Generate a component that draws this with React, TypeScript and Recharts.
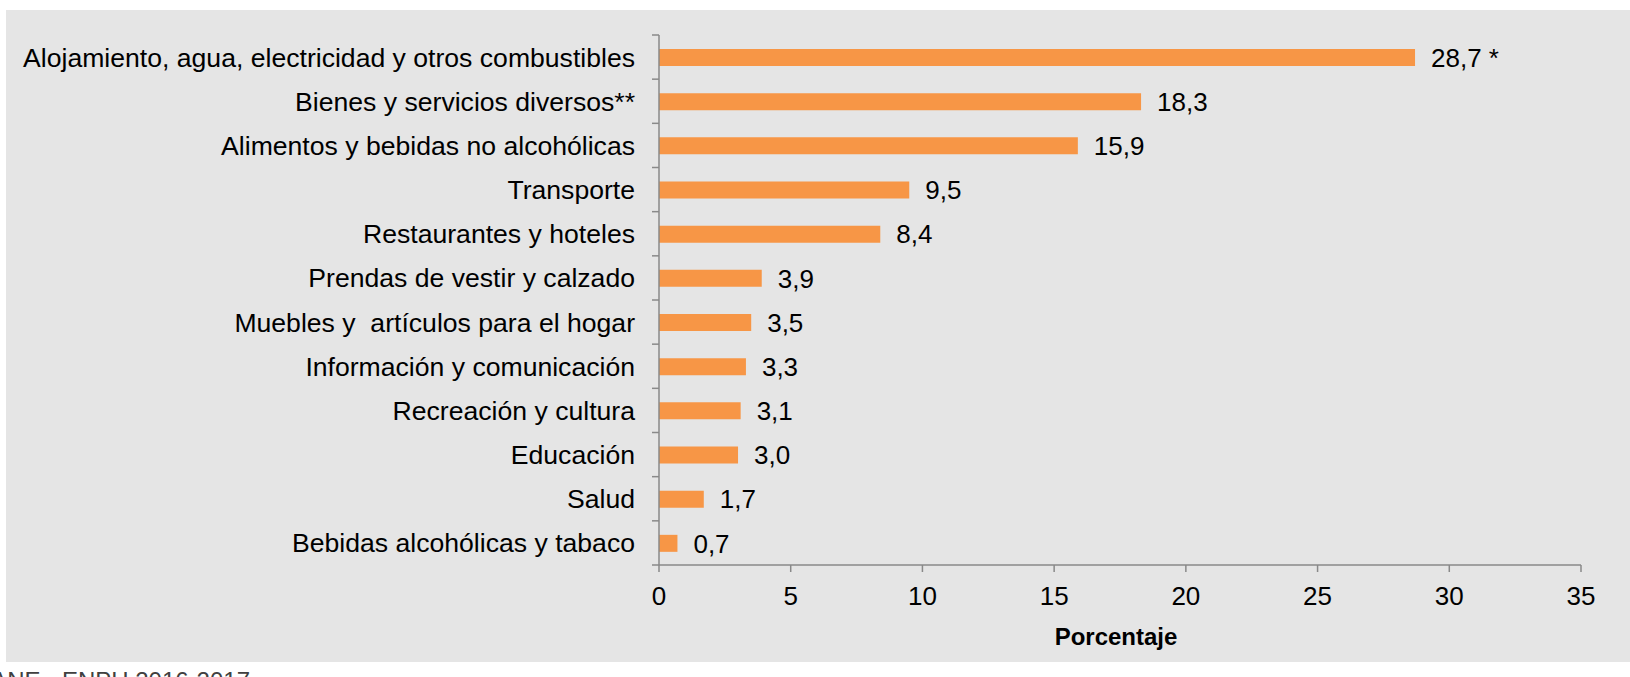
import React from 'react';
import { BarChart, Bar, XAxis, YAxis, LabelList, Label } from 'recharts';

// gasto por grupo (porcentaje)
const categories = [
  'Alojamiento, agua, electricidad y otros combustibles',
  'Bienes y servicios diversos**',
  'Alimentos y bebidas no alcohólicas',
  'Transporte',
  'Restaurantes y hoteles',
  'Prendas de vestir y calzado',
  'Muebles y\u00a0 artículos para el hogar',
  'Información y comunicación',
  'Recreación y cultura',
  'Educación',
  'Salud',
  'Bebidas alcohólicas y tabaco',
];
const values = [28.7, 18.3, 15.9, 9.5, 8.4, 3.9, 3.5, 3.3, 3.1, 3.0, 1.7, 0.7];
const notes = ['*', '', '', '', '', '', '', '', '', '', '', ''];
const xTicks = [0, 5, 10, 15, 20, 25, 30, 35];

const data = categories.map((name, i) => ({
  name,
  value: values[i],
  label: values[i].toFixed(1).replace('.', ',') + (notes[i] ? ' ' + notes[i] : ''),
}));

const FONT = '"Liberation Sans", Arial, sans-serif';
const AXIS = '#898989';
const TICK_SIZE = 7;
const TICK_MARGIN = 17;

const YTick = (props: any) => {
  const { x, y, payload } = props;
  const half = payload && payload.offset ? payload.offset : 22.1;
  const ax = x + TICK_MARGIN + TICK_SIZE;
  const last = payload.value === categories[categories.length - 1];
  return (
    <g>
      <line x1={ax - TICK_SIZE} x2={ax} y1={y - half} y2={y - half} stroke={AXIS} strokeWidth={1.5} />
      {last && <line x1={ax - TICK_SIZE} x2={ax} y1={y + half} y2={y + half} stroke={AXIS} strokeWidth={1.5} />}
      <text x={x} y={y} dy="0.355em" textAnchor="end" fontSize={26.6} fill="#000" fontFamily={FONT}>
        {payload.value}
      </text>
    </g>
  );
};

export default function App() {
  return (
    <div style={{ position: 'absolute', left: 0, top: 0, width: 1630, height: 677, background: '#fff', overflow: 'hidden', fontFamily: FONT }}>
      <div style={{ position: 'absolute', left: 6, top: 10, width: 1624, height: 652, background: '#e5e5e5' }} />
      <div style={{ position: 'absolute', left: 0, top: 0 }}>
        <BarChart
          width={1630}
          height={677}
          data={data}
          layout="vertical"
          barSize={17}
          margin={{ top: 35, right: 49, left: 0, bottom: 27 }}
        >
          <XAxis
            type="number"
            domain={[0, 35]}
            ticks={xTicks}
            height={85}
            tickSize={TICK_SIZE}
            tickMargin={15}
            axisLine={{ stroke: AXIS, strokeWidth: 1.5 }}
            tickLine={{ stroke: AXIS, strokeWidth: 1.5 }}
            tick={{ fill: '#000', fontSize: 26, fontFamily: FONT }}
          >
            <Label
              value="Porcentaje"
              position="insideBottom"
              offset={5}
              dx={-4}
              style={{ fontWeight: 'bold', fontSize: 24, fill: '#000', fontFamily: FONT }}
            />
          </XAxis>
          <YAxis
            type="category"
            dataKey="name"
            width={659}
            tickSize={TICK_SIZE}
            tickMargin={TICK_MARGIN}
            axisLine={{ stroke: AXIS, strokeWidth: 1.5 }}
            tickLine={false}
            tick={<YTick />}
            interval={0}
          />
          <Bar dataKey="value" fill="#F79646" isAnimationActive={false}>
            <LabelList
              dataKey="label"
              position="right"
              offset={16}
              style={{ fill: '#000', fontSize: 26, fontFamily: FONT }}
            />
          </Bar>
        </BarChart>
      </div>
      <div
        style={{
          position: 'absolute',
          right: 1630 - 250,
          top: 669,
          fontSize: 24,
          lineHeight: '24px',
          color: '#404040',
          whiteSpace: 'nowrap',
        }}
      >
        Fuente: DANE - ENPH 2016-2017
      </div>
    </div>
  );
}
